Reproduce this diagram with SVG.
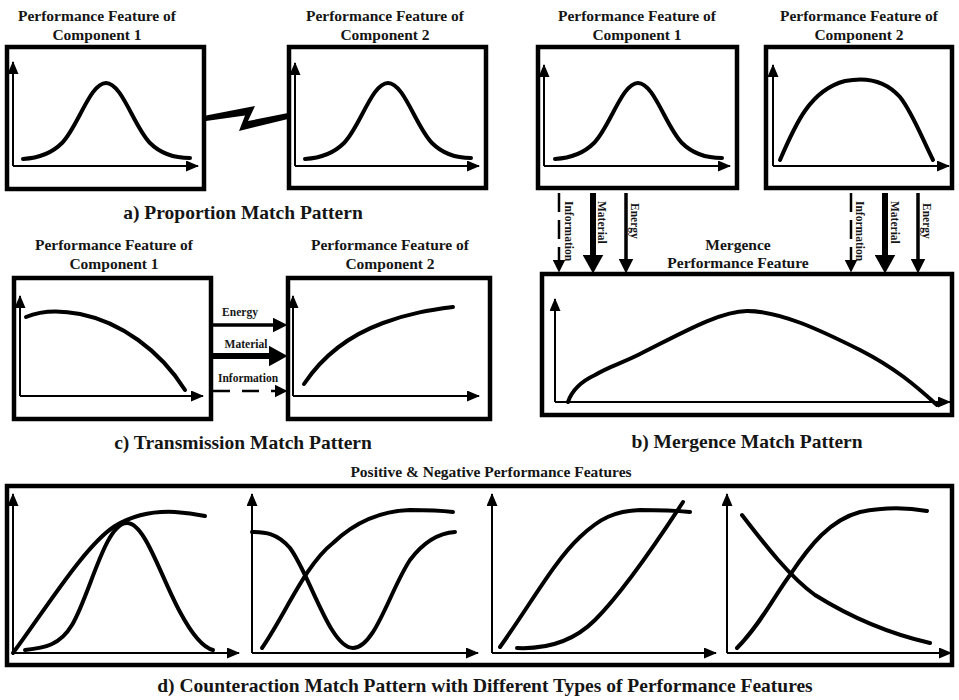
<svg xmlns="http://www.w3.org/2000/svg" width="959" height="700" viewBox="0 0 959 700">
<defs>
<style>
.box{fill:none;stroke:#000;stroke-width:4.5}
.axis{fill:none;stroke:#000;stroke-width:2;marker-end:url(#ax)}
.crv{fill:none;stroke:#000;stroke-width:4;stroke-linecap:round;stroke-linejoin:round}
.t{font-family:"Liberation Serif","Times New Roman",serif;font-weight:bold;fill:#151515;text-anchor:middle}
.ttl{font-size:15.5px}
.cap{font-size:19.5px}
.lbl{font-size:11.5px}
.vl{font-family:"Liberation Serif","Times New Roman",serif;font-weight:bold;fill:#151515;font-size:11.5px}
.fE{fill:none;stroke:#000;stroke-width:3.5;marker-end:url(#hE)}
.fM{fill:none;stroke:#000;stroke-width:6;marker-end:url(#hM)}
.fI{fill:none;stroke:#000;stroke-width:2.5;marker-end:url(#hI)}
</style>
<marker id="ax" markerUnits="userSpaceOnUse" markerWidth="13" markerHeight="11" viewBox="0 0 13 11" refX="12" refY="5.5" orient="auto"><path d="M0,0 L13,5.5 L0,11 z" fill="#000"/></marker>
<marker id="hE" markerUnits="userSpaceOnUse" markerWidth="15" markerHeight="15" viewBox="0 0 15 15" refX="0.5" refY="7.5" orient="auto"><path d="M0,0 L15,7.5 L0,15 z" fill="#000"/></marker>
<marker id="hM" markerUnits="userSpaceOnUse" markerWidth="19" markerHeight="21" viewBox="0 0 19 21" refX="0.5" refY="10.5" orient="auto"><path d="M0,0 L19,10.5 L0,21 z" fill="#000"/></marker>
<marker id="hI" markerUnits="userSpaceOnUse" markerWidth="13" markerHeight="13" viewBox="0 0 13 13" refX="0.5" refY="6.5" orient="auto"><path d="M0,0 L13,6.5 L0,13 z" fill="#000"/></marker>
</defs>
<rect width="959" height="700" fill="#fff"/>

<!-- Panel a -->
<g id="a-comp1">
<text class="t ttl" x="97" y="21">Performance Feature of</text>
<text class="t ttl" x="97" y="40">Component 1</text>
<rect class="box" x="7" y="47" width="197" height="142"/>
<path class="axis" d="M13,166 V62"/>
<path class="axis" d="M13,166 H198"/>
<path class="crv" d="M23,159 C40,158 52,153 62,143 C78,127 90,83 106,83 C122,83 134,127 150,143 C160,153 172,158 190,158"/>
</g>
<g id="a-comp2">
<text class="t ttl" x="385" y="21">Performance Feature of</text>
<text class="t ttl" x="385" y="40">Component 2</text>
<rect class="box" x="289" y="47" width="197" height="141"/>
<path class="axis" d="M295,166 V63"/>
<path class="axis" d="M295,166 H479"/>
<path class="crv" d="M305,159 C322,158 334,153 344,143 C360,127 372,83 388,83 C404,83 416,127 432,143 C442,153 454,158 471,158"/>
</g>
<text id="a-caption" class="t cap" x="243" y="219">a) Proportion Match Pattern</text>

<!-- Panel b -->
<g id="b-comp1">
<text class="t ttl" x="637" y="21">Performance Feature of</text>
<text class="t ttl" x="637" y="40">Component 1</text>
<rect class="box" x="538" y="47" width="199" height="141"/>
<path class="axis" d="M544,166 V65"/>
<path class="axis" d="M544,166 H730"/>
<path class="crv" d="M555,159 C572,158 584,153 594,143 C610,127 622,83 638,83 C654,83 666,127 682,143 C692,153 704,158 722,158"/>
</g>
<g id="b-comp2">
<text class="t ttl" x="859" y="21">Performance Feature of</text>
<text class="t ttl" x="859" y="40">Component 2</text>
<rect class="box" x="766" y="47" width="186" height="141"/>
<path class="axis" d="M773,166 V65"/>
<path class="axis" d="M773,166 H949"/>
<path class="crv" d="M780,160 C795,125 810,90 845,81 C865,77 885,80 900,97 C912,112 922,138 933,160"/>
</g>
<g id="b-merge">
<text class="t ttl" x="738" y="250">Mergence</text>
<text class="t ttl" x="738" y="268">Performance Feature</text>
<rect class="box" x="542" y="274" width="410" height="141"/>
<path class="axis" d="M555,402 V299"/>
<path class="axis" d="M555,402 H950"/>
<path class="crv" d="M568,402 C572,390 580,382 595,375 C610,366 620,364 640,354 C680,334 720,311 747,311 C780,311 820,330 860,350 C895,368 915,385 937,405"/>
</g>
<text id="b-caption" class="t cap" x="747" y="448">b) Mergence Match Pattern</text>

<!-- Panel c -->
<g id="c-comp1">
<text class="t ttl" x="114" y="250">Performance Feature of</text>
<text class="t ttl" x="114" y="269">Component 1</text>
<rect class="box" x="14" y="278" width="197" height="141"/>
<path class="axis" d="M20,396 V296"/>
<path class="axis" d="M20,396 H203"/>
<path class="crv" d="M26,317 C40,311 60,310 80,314 C120,322 160,350 185,390"/>
</g>
<g id="c-comp2">
<text class="t ttl" x="390" y="250">Performance Feature of</text>
<text class="t ttl" x="390" y="269">Component 2</text>
<rect class="box" x="288" y="278" width="202" height="141"/>
<path class="axis" d="M293,396 V296"/>
<path class="axis" d="M293,396 H479"/>
<path class="crv" d="M304,384 C320,360 345,337 383,323 C410,313 430,310 453,307"/>
</g>
<text id="c-caption" class="t cap" x="243" y="449">c) Transmission Match Pattern</text>

<!-- Panel d -->
<g id="d-panel">
<text class="t ttl" x="491" y="477">Positive &amp; Negative Performance Features</text>
<rect class="box" x="7" y="486" width="945" height="179"/>
</g>
<g id="d-chart1">
<path class="axis" d="M13,653 V494"/>
<path class="axis" d="M13,653 H239"/>
<path class="crv" d="M13,653 C45,610 85,545 115,526 C135,514 155,511 175,512 C190,513 200,515 205,516"/>
<path class="crv" d="M25,650 C45,648 60,645 72,625 C90,595 105,523 127,523 C145,523 160,575 180,612 C195,640 205,648 213,650"/>
</g>
<g id="d-chart2">
<path class="axis" d="M252,653 V494"/>
<path class="axis" d="M252,653 H478"/>
<path class="crv" d="M252,532 C265,532 277,533 290,548 C310,575 330,648 353,648 C375,648 390,590 410,560 C425,540 440,533 455,532"/>
<path class="crv" d="M262,648 C285,615 305,565 333,543 C355,522 380,511 410,510 C430,510 445,511 453,512"/>
</g>
<g id="d-chart3">
<path class="axis" d="M492,653 V494"/>
<path class="axis" d="M492,653 H716"/>
<path class="crv" d="M500,647 C530,605 555,560 580,537 C600,518 615,511 640,510 C660,510 680,511 690,512"/>
<path class="crv" d="M517,648 C540,649 570,645 595,620 C620,595 655,545 683,502"/>
</g>
<g id="d-chart4">
<path class="axis" d="M727,653 V494"/>
<path class="axis" d="M727,653 H951"/>
<path class="crv" d="M742,515 C765,545 790,577 815,595 C855,620 895,635 930,643"/>
<path class="crv" d="M737,648 C760,625 775,595 790,575 C810,545 830,520 860,512 C885,507 910,508 927,511"/>
</g>
<text id="d-caption" class="t cap" x="485" y="692">d) Counteraction Match Pattern with Different Types of Performance Features</text>

<!-- Connectors -->
<g id="connectors">
<polygon points="206,115.5 255,106 248,121 288,113 288,119 239,131 245,115.5 206,121" fill="#000"/>
<!-- transmission -->
<path class="fE" d="M213,325 H273"/>
<path class="fM" d="M213,356 H269"/>
<path class="fI" d="M213,391 H275" stroke-dasharray="17 12"/>
<text class="t lbl" x="240" y="316">Energy</text>
<text class="t lbl" x="246" y="348">Material</text>
<text class="t lbl" x="248" y="382">Information</text>
<!-- mergence left -->
<path class="fI" d="M559,193 V260" stroke-dasharray="19 8"/>
<path class="fM" d="M593,193 V255"/>
<path class="fE" d="M626,193 V259"/>
<text class="vl" transform="translate(565,201) rotate(90)">Information</text>
<text class="vl" transform="translate(598,201) rotate(90)">Material</text>
<text class="vl" transform="translate(631,203) rotate(90)">Energy</text>
<!-- mergence right -->
<path class="fI" d="M851,193 V260" stroke-dasharray="19 8"/>
<path class="fM" d="M885,193 V255"/>
<path class="fE" d="M918,193 V259"/>
<text class="vl" transform="translate(856,201) rotate(90)">Information</text>
<text class="vl" transform="translate(891,201) rotate(90)">Material</text>
<text class="vl" transform="translate(923,203) rotate(90)">Energy</text>
</g>
</svg>
